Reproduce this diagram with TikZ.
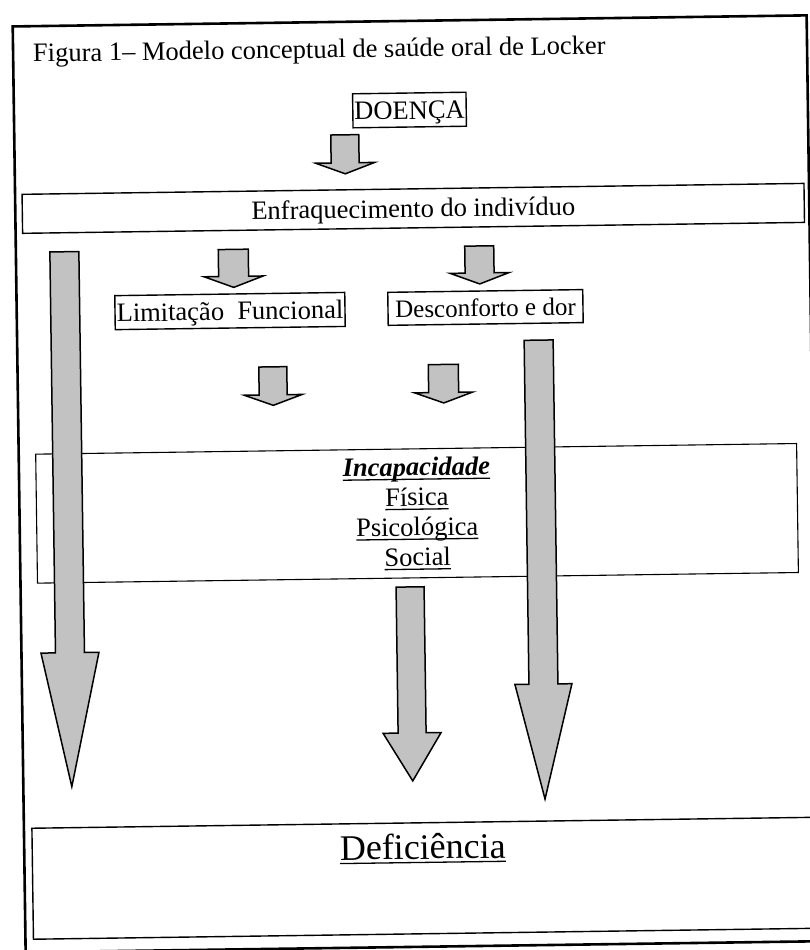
\documentclass[tikz,border=0pt]{standalone}
\usepackage{fontspec}
\setmainfont{Liberation Serif}

\newsavebox\ulbox
\newcommand\uline[1]{\sbox\ulbox{#1}\rlap{\rule[-4pt]{\wd\ulbox}{1.3pt}}\usebox\ulbox}

\tikzset{
  frameline/.style={draw=black, line width=2.6pt},
  boxsty/.style={draw=black, line width=1.4pt, fill=white, rectangle, inner xsep=1.5pt, inner ysep=0pt,
                 text height=20pt, text depth=2pt, font=\fontsize{26.5}{30}\selectfont},
  plainbox/.style={draw=black, line width=1.1pt, fill=white, rectangle, inner sep=0pt},
  txt/.style={inner sep=0pt, font=\fontsize{26.5}{30}\selectfont},
  barrowsty/.style={draw=black, line width=1.5pt, fill=black!24, line join=miter},
}

% block arrow: #1 centre x, #2 shaft half width, #3 head half width, #4 top y, #5 shoulder y, #6 tip y
\newcommand\barrow[6]{%
  \draw[barrowsty] ({#1-#2},#4) -- ({#1+#2},#4) -- ({#1+#2},#5) -- ({#1+#3},#5)
     -- (#1,#6) -- ({#1-#3},#5) -- ({#1-#2},#5) -- cycle;}

\begin{document}
\begin{tikzpicture}[x=1pt,y=-1pt]
\useasboundingbox (0,0) rectangle (810,950);
\fill[white] (0,0) rectangle (810,950);
\begin{scope}[rotate around={0.8:(405,475)}, transform shape]
  % outer frame
  \draw[frameline] (19,21) rectangle (813,947);
  % title
  \node[txt, anchor=base west] (title) at (38.8,56.8) {Figura 1– Modelo conceptual de saúde oral de Locker};
  % boxes
  \node[boxsty, minimum width=113pt, minimum height=34pt] (doenca) at (414.6,110.1) {DOENÇA};
  \node[boxsty, minimum width=782pt, minimum height=39pt] (enfr) at (417,208.5) {Enfraquecimento do indivíduo};
  \node[boxsty, minimum width=230pt, minimum height=34pt] (limit) at (232.3,308.6) {Limitação~~Funcional};
  \node[boxsty, minimum width=195pt, minimum height=33pt, inner xsep=1pt,
        font=\fontsize{25}{30}\selectfont] (descon) at (487.8,308.6) {Desconforto e dor};
  % Incapacidade box
  \node[plainbox, minimum width=761pt, minimum height=129pt] (incap) at (416.5,513.5) {};
  \node[txt, anchor=base] (incapt) at (416.5,476) {\uline{\textbf{\textit{Incapacidade}}}};
  \node[txt, anchor=base] (fisica) at (416.5,506) {\uline{Física}};
  \node[txt, anchor=base] (psico) at (416.5,536) {\uline{Psicológica}};
  \node[txt, anchor=base] (social) at (416.5,566) {\uline{Social}};
  % Deficiencia box
  \node[plainbox, line width=1.4pt, minimum width=781pt, minimum height=111pt] (defbox) at (417.5,878.5) {};
  \node[txt, anchor=base, font=\fontsize{36}{40}\selectfont] (deft) at (417.6,859.3) {\uline{Deficiência}};
  % block arrows
  \barrow{349.5}{14}{29.5}{134}{162}{173}
  \barrow{236.4}{15}{29.5}{247}{274}{285}
  \barrow{482.4}{14.5}{29.5}{247}{274}{285}
  \barrow{274.3}{14}{29}{365}{393}{403.5}
  \barrow{444.8}{15}{29}{365}{393}{403.5}
  \barrow{67.5}{14.5}{29}{247}{648}{782}
  \barrow{540.5}{14.5}{28.5}{342}{686}{801}
  \barrow{408.5}{14}{29}{587}{733}{781}
\end{scope}
\end{tikzpicture}
\end{document}
